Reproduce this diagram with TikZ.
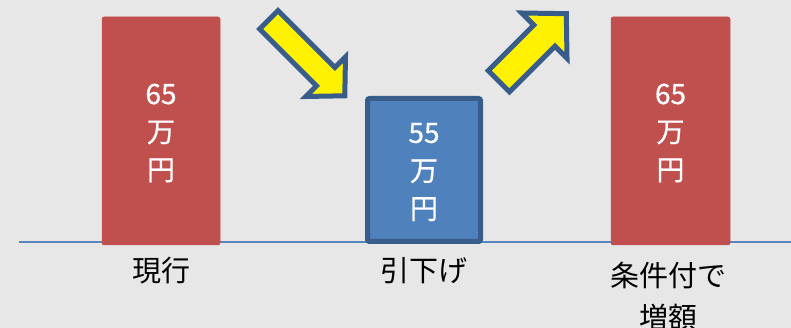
\documentclass[tikz,border=0pt]{standalone}
\usepackage{fontspec}
\setmainfont{Noto Sans CJK JP}
\newfontfamily\barfont[FakeBold=0.6]{Noto Sans CJK JP}
\definecolor{bg}{HTML}{E7E7E7}
\definecolor{barred}{HTML}{C0504D}
\definecolor{barblue}{HTML}{4F81BD}
\definecolor{darkblue}{HTML}{385D8A}
\definecolor{lineblue}{HTML}{5A86C0}
\tikzset{
  redbar/.style={draw=barred, fill=barred, rounded corners=2pt, line width=0.5pt},
  bluebox/.style={draw=darkblue, fill=barblue, rounded corners=2pt, line width=5pt},
  bartext/.style={text=white, align=center, font=\barfont\fontsize{28}{38}\selectfont, inner sep=0pt},
  labeltext/.style={text=black, align=center, font=\fontsize{29}{42}\selectfont, inner sep=0pt},
  yarrow/.style={draw=darkblue, fill=yellow, line width=5pt, line join=miter, miter limit=10},
}
\begin{document}
\begin{tikzpicture}[x=1pt,y=-1pt]
\fill[bg] (0,0) rectangle (791,328);
\useasboundingbox (0,0) rectangle (791,328);
% baseline
\coordinate (bl) at (19,242);
\coordinate (br) at (791,242);
\draw[lineblue, line width=2pt] (bl) -- (br);
% bars
\draw[redbar] (102,17) rectangle (220,245);
\node[bartext] (v1) at (161,133) {65\\万\\円};
\draw[bluebox] (367.5,98.5) rectangle (480.5,241.5);
\node[bartext] (v2) at (424,172) {55\\万\\円};
\draw[redbar] (611,17) rectangle (730,245);
\node[bartext] (v3) at (670.5,133) {65\\万\\円};
% labels
\node[labeltext] (l1) at (161,271) {現行};
\node[labeltext] (l2) at (424,271) {引下げ};
\node[labeltext] (l3) at (668,296) {条件付で\\増額};
% arrow down-right
\begin{scope}[shift={(267,18)}, rotate=-45]
\draw[yarrow] (2.5,-13) -- (83,-13) -- (83,-28) -- (110,0) -- (83,28) -- (83,13) -- (2.5,13) -- cycle;
\end{scope}
% arrow up-right
\begin{scope}[shift={(497,83)}, rotate=45]
\draw[yarrow] (2.5,-15) -- (67,-15) -- (67,-32) -- (98,0) -- (67,32) -- (67,15) -- (2.5,15) -- cycle;
\end{scope}
\end{tikzpicture}
\end{document}
